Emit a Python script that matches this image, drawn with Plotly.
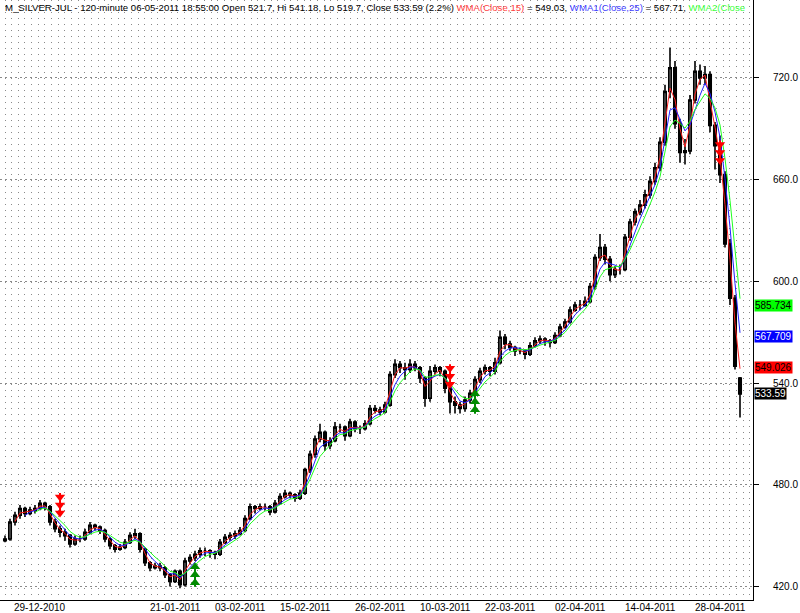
import plotly.graph_objects as go

# ---------------- data ----------------
opens = [447,448,458,462,466,463,465,466,469,467,458,454,452,450,445,448,448,452,456,455,
         453,448,444,442,443,446,450,451,442,434,431,432,431,427,423,429,421,435,437,439,
         441,441,440,439,446,449,450,451,453,460,467,466,467,467,464,469,473,475,474,472,
         475,489,498,507,511,503,506,514,514,509,517,513,513,516,525,524,523,527,545,551,
         549,548,551,549,543,531,547,549,547,537,529,527,525,530,534,542,547,549,547,552,
         567,563,561,559,559,557,562,565,566,565,564,568,573,576,583,586,586,588,597,614,
         620,613,604,607,607,626,635,641,645,651,659,667,682,712,726,693,676,677,707,724,
         720,722,692,680,663,622,590,543]
highs = [450,460,464,468,467,467,468,471,470,468,460,456,454,451,450,450,454,458,457,456,
         454,449,445,445,448,452,454,452,443,435,434,434,432,428,430,430,437,439,441,443,
         443,442,441,448,451,452,453,455,462,469,468,469,469,468,471,475,477,476,475,477,
         490,500,509,516,512,508,517,516,515,519,518,515,518,527,527,526,529,547,554,553,
         552,554,553,550,544,550,551,550,548,538,532,529,532,536,544,549,551,550,555,571,
         569,565,562,561,560,564,567,568,567,566,570,575,578,585,588,589,591,599,616,628,
         622,615,609,610,628,637,643,648,654,662,670,685,716,738,730,696,684,710,730,728,
         727,724,694,686,665,625,592,543.5]
lows = [446,447,456,460,461,462,463,465,465,456,452,449,447,443,444,446,447,451,453,451,
        446,442,440,441,442,445,448,440,432,429,430,429,425,420,422,419,420,433,435,437,
        438,437,436,438,445,447,448,450,452,459,463,465,465,462,463,468,472,472,470,471,
        474,487,496,505,500,501,505,511,506,508,511,510,512,515,522,521,522,526,543,546,
        542,546,547,540,526,529,545,544,534,522,522,522,523,528,533,540,545,544,545,551,
        560,559,556,557,554,556,561,563,562,561,563,567,572,575,582,583,585,587,595,612,
        610,600,602,604,606,624,633,639,643,649,657,665,680,708,690,670,669,675,705,716,
        716,688,666,658,620,586,548,519.7]
closes = [448,458,462,466,463,465,466,469,467,458,454,452,450,445,448,448,452,456,455,453,
          448,444,442,443,446,450,451,442,434,431,432,431,427,423,429,421,435,437,439,441,
          441,440,439,446,449,450,451,453,460,467,466,467,467,464,469,473,475,474,472,475,
          489,498,507,511,503,506,514,514,509,517,513,513,516,525,524,523,527,545,551,549,
          548,551,549,543,531,547,549,547,537,529,527,525,530,534,542,547,549,547,552,567,
          563,561,559,559,557,562,565,566,565,564,568,573,576,583,586,586,588,597,614,620,
          613,604,607,607,626,635,641,645,651,659,667,682,712,726,693,676,677,707,724,720,
          722,692,680,663,622,590,550,533.59]

# each plotted bar stands for ~5 of the original 120-minute bars
BARS_PER_POINT = 5
wma_periods = [15, 25, 35]
wma_last = ["549.026", "567.709", "585.734"]
last_close_label = "533.59"

tick_bars = [7, 34, 47, 60, 75, 88, 101, 115, 129, 143]
tick_labels = ["29-12-2010", "21-01-2011", "03-02-2011", "15-02-2011", "26-02-2011",
               "10-03-2011", "22-03-2011", "02-04-2011", "14-04-2011", "28-04-2011"]

sell_bars = [11, 89, 143]
sell_tips = [461, 537, 669]
buy_bars = [38, 94]
buy_tips = [434, 536]

y_ticks = [420, 480, 540, 600, 660, 720]

title_text = ("M_SILVER-JUL - 120-minute 06-05-2011 18:55:00 Open 521.7, Hi 541.18, "
              "Lo 519.7, Close 533.59 (2.2%) "
              "<span style='color:#ff4040'>WMA(Close,15)</span> = 549.03, "
              "<span style='color:#4040ff'>WMA1(Close,25)</span> = 567.71, "
              "<span style='color:#40ff40'>WMA2(Close</span>")

FONT = "Liberation Sans, Arial"

# ---------------- helpers ----------------
def wma(values, n):
    out = [None] * len(values)
    wsum = n * (n + 1) / 2
    for i in range(n - 1, len(values)):
        s = 0.0
        for k in range(n):
            s += values[i - k] * (n - k)
        out[i] = s / wsum
    return out

x = list(range(len(closes)))
Y_MIN, Y_MAX = 412, 766
PLOT_H = 600
upp = (Y_MAX - Y_MIN) / PLOT_H  # price units per pixel

fig = go.Figure()
fig.add_trace(go.Candlestick(
    x=x, open=opens, high=highs, low=lows, close=closes,
    increasing=dict(line=dict(color="#000000", width=1.6), fillcolor="#8c8c8c"),
    decreasing=dict(line=dict(color="#000000", width=1.6), fillcolor="#000000"),
    whiskerwidth=0, showlegend=False, hoverinfo="skip"))

line_colors = ["#ff2020", "#2020ff", "#20ff20"]
for p, c in zip(wma_periods, line_colors):
    w = wma(closes, max(2, round(p / BARS_PER_POINT)))
    fig.add_trace(go.Scatter(x=x, y=w, mode="lines", line=dict(color=c, width=1),
                             showlegend=False, hoverinfo="skip"))

def add_arrow(bar, tip, down, color):
    sgn = 1 if down else -1
    ys = [tip + sgn * (4 + 8 * k) * upp for k in range(3)]
    fig.add_trace(go.Scatter(x=[bar, bar], y=[tip + sgn * 4 * upp, tip + sgn * 24 * upp],
                             mode="lines", line=dict(color=color, width=2),
                             showlegend=False, hoverinfo="skip"))
    fig.add_trace(go.Scatter(x=[bar] * 3, y=ys, mode="markers",
                             marker=dict(symbol="triangle-down" if down else "triangle-up",
                                         size=9, color=color, line=dict(width=0)),
                             showlegend=False, hoverinfo="skip"))

for b, t in zip(sell_bars, sell_tips):
    add_arrow(b, t, True, "#ff0000")
for b, t in zip(buy_bars, buy_tips):
    add_arrow(b, t, False, "#008a00")

annotations = [dict(xref="paper", yref="paper", x=0.004, y=1.0, xanchor="left", yanchor="top",
                    text=title_text, showarrow=False, align="left",
                    font=dict(family=FONT, size=9.6, color="#000000"))]

# date labels just under the axis line
for b, lab in zip(tick_bars, tick_labels):
    annotations.append(dict(xref="x", yref="paper", x=b, y=0, xanchor="center", yanchor="top",
                            yshift=0, text=lab, showarrow=False,
                            font=dict(family=FONT, size=10, color="#000000")))

box_styles = [("#ff0000", "#000000"), ("#0000ff", "#ffffff"), ("#00ff00", "#000000")]
for val, (bg, fg) in zip(wma_last, box_styles):
    annotations.append(dict(xref="paper", yref="y", x=1, y=float(val), xanchor="left",
                            yanchor="middle", xshift=1, text=val, showarrow=False,
                            bgcolor=bg, borderpad=0,
                            font=dict(family=FONT, size=10, color=fg)))
annotations.append(dict(xref="paper", yref="y", x=1, y=float(last_close_label), xanchor="left",
                        yanchor="middle", xshift=1, text=last_close_label, showarrow=False,
                        bgcolor="#000000", borderpad=0,
                        font=dict(family=FONT, size=10, color="#ffffff")))

fig.update_layout(
    width=800, height=613,
    margin=dict(l=0, r=47, t=0, b=13, autoexpand=False),
    paper_bgcolor="#ffffff", plot_bgcolor="#ffffff",
    annotations=annotations,
    xaxis=dict(range=[-1, 149.6], tickmode="array", tickvals=tick_bars, showticklabels=False,
               showgrid=False, zeroline=False, showline=True, linecolor="#000000", linewidth=1,
               ticks="", automargin=False,
               rangeslider=dict(visible=False), fixedrange=True,
               minor=dict(tickmode="linear", tick0=0, dtick=1.33, showgrid=True,
                          gridcolor="#8a8a8a", gridwidth=1, griddash="1px,5px", ticks="")),
    yaxis=dict(range=[Y_MIN, Y_MAX], side="right", tickmode="array", tickvals=y_ticks,
               tickformat=".1f", showgrid=True, gridcolor="#8a8a8a", griddash="2px,3px",
               zeroline=False, showline=True, linecolor="#000000", linewidth=1,
               ticks="outside", ticklen=5, tickcolor="#000000", ticklabelstandoff=12,
               automargin=False,
               tickfont=dict(family=FONT, size=10, color="#000000"),
               fixedrange=True),
)

fig.write_html("out.html", config={"displayModeBar": False},
               post_script="document.body.style.margin='0';document.body.style.overflow='hidden';")
